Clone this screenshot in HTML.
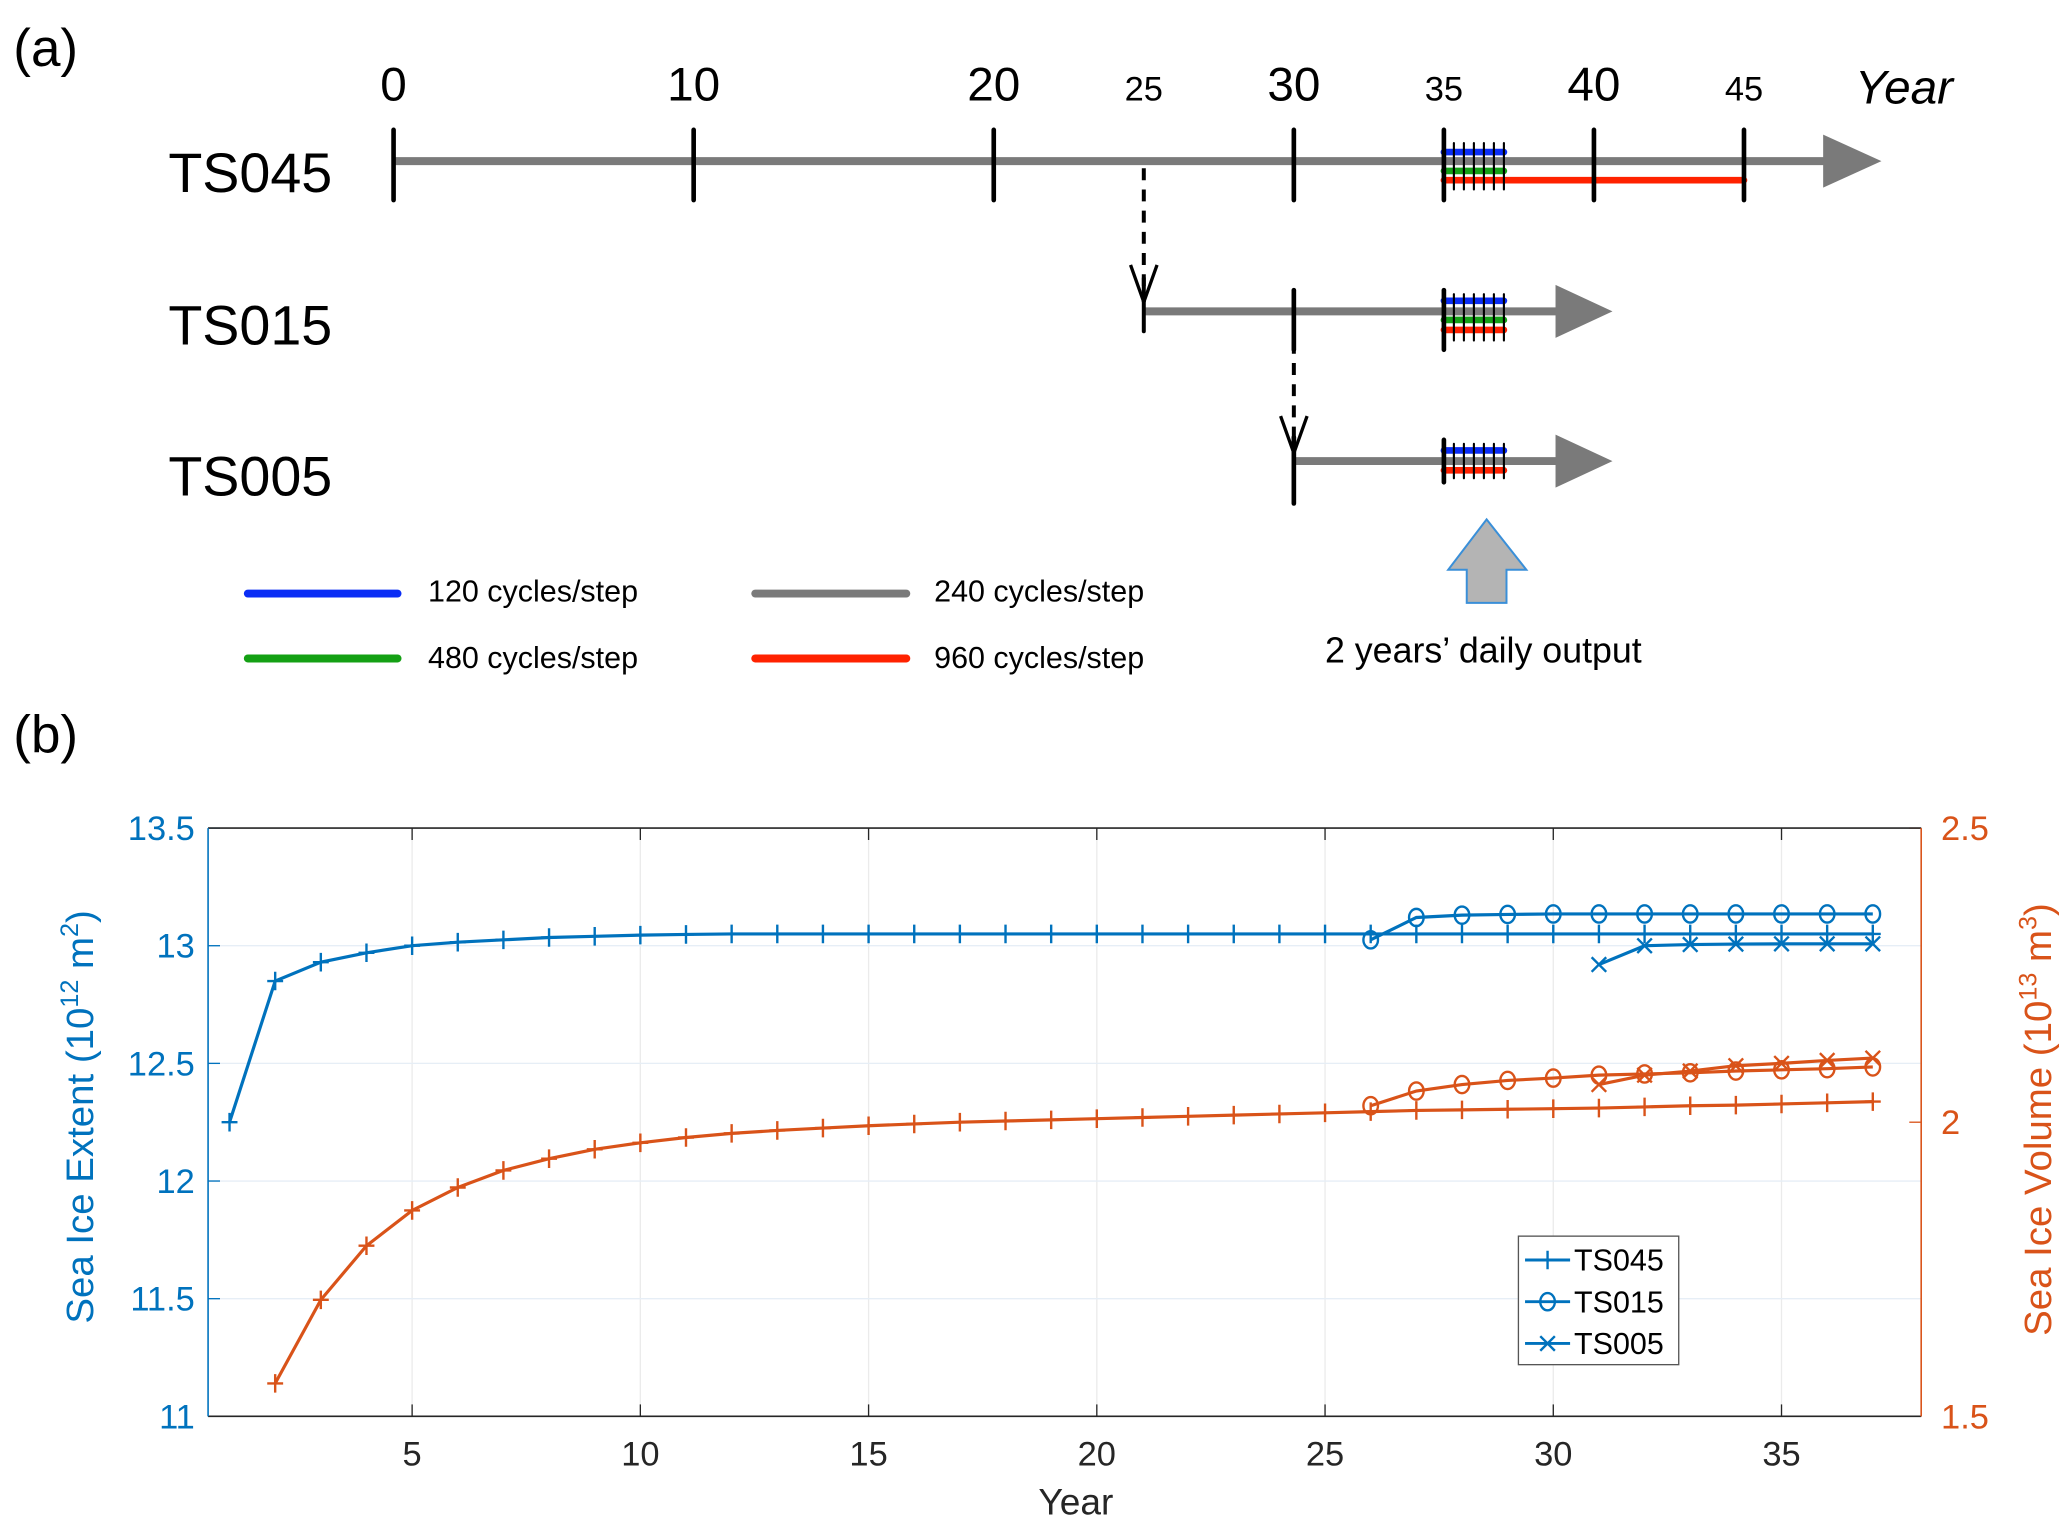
<!DOCTYPE html>
<html><head><meta charset="utf-8"><style>
html,body{margin:0;padding:0;background:#fff;}
svg{display:block;font-family:"Liberation Sans",Arial,sans-serif;}
</style></head><body>
<svg id="fig" width="2067" height="1521" viewBox="0 0 1560 1148" xmlns="http://www.w3.org/2000/svg">
<g id="panelA">
<text x="10" y="50" font-size="40">(a)</text>
<text x="1400" y="78" font-size="36" font-style="italic">Year</text>
<text x="127" y="145" font-size="42">TS045</text>
<text x="127" y="260" font-size="42">TS015</text>
<text x="127" y="374" font-size="42">TS005</text>
</g>
<g id="legendA">
<line x1="187" y1="448" x2="300" y2="448" stroke="#0a2df5" stroke-width="6" stroke-linecap="round"/>
<text x="323" y="454" font-size="23">120 cycles/step</text>
<line x1="570" y1="448" x2="684" y2="448" stroke="#7a7a7a" stroke-width="6" stroke-linecap="round"/>
<text x="705" y="454" font-size="23">240 cycles/step</text>
<line x1="187" y1="497" x2="300" y2="497" stroke="#14a014" stroke-width="6" stroke-linecap="round"/>
<text x="323" y="504" font-size="23">480 cycles/step</text>
<line x1="570" y1="497" x2="684" y2="497" stroke="#ff2200" stroke-width="6" stroke-linecap="round"/>
<text x="705" y="504" font-size="23">960 cycles/step</text>
<polygon points="1122,392 1152,430 1137,430 1137,455 1107,455 1107,430 1093,430" fill="#b4b4b4" stroke="#3a8fd8" stroke-width="1.5"/>
<text x="1000" y="500" font-size="27">2 years’ daily output</text>
</g>
<text x="10" y="568" font-size="40">(b)</text>
<g id="panelB"></g>
</svg>
<script>
const NS="http://www.w3.org/2000/svg";
// ---- panel (a) data ----
const timelineTicks=[0,10,20,25,30,35,40,45];
const tickBig=[true,true,true,false,true,false,true,false];
// ---- panel (b) data ----
const years045=[1,2,3,4,5,6,7,8,9,10,11,12,13,14,15,16,17,18,19,20,21,22,23,24,25,26,27,28,29,30,31,32,33,34,35,36,37];
const extent045=[12.25,12.85,12.93,12.97,13.0,13.015,13.025,13.035,13.04,13.045,13.048,13.05,13.05,13.05,13.05,13.05,13.05,13.05,13.05,13.05,13.05,13.05,13.05,13.05,13.05,13.05,13.05,13.05,13.05,13.05,13.05,13.05,13.05,13.05,13.05,13.05,13.05];
const years015=[26,27,28,29,30,31,32,33,34,35,36,37];
const extent015=[13.025,13.12,13.13,13.133,13.135,13.135,13.135,13.135,13.135,13.135,13.135,13.135];
const years005=[31,32,33,34,35,36,37];
const extent005=[12.92,13.0,13.005,13.007,13.008,13.008,13.008];
const volYears045=[2,3,4,5,6,7,8,9,10,11,12,13,14,15,16,17,18,19,20,21,22,23,24,25,26,27,28,29,30,31,32,33,34,35,36,37];
const volume045=[1.556,1.698,1.79,1.85,1.889,1.918,1.938,1.954,1.965,1.974,1.981,1.986,1.99,1.994,1.997,2.0,2.002,2.004,2.006,2.008,2.01,2.012,2.014,2.016,2.018,2.02,2.021,2.022,2.023,2.024,2.026,2.028,2.029,2.031,2.033,2.035];
const volume015=[2.028,2.053,2.064,2.071,2.075,2.08,2.082,2.084,2.087,2.089,2.091,2.094];
const volume005=[2.064,2.08,2.087,2.096,2.1,2.105,2.109];
const xTicks=[5,10,15,20,25,30,35];
const yLeftTicks=[11,11.5,12,12.5,13,13.5];
const yRightTicks=[1.5,2,2.5];

function mk(tag,attrs,parent){const e=document.createElementNS(NS,tag);for(const k in attrs)e.setAttribute(k,attrs[k]);parent.appendChild(e);return e;}
const A=document.getElementById('panelA');
const tx=y=>297+22.65*y;
timelineTicks.forEach((t,i)=>{
  const el=mk('text',{x:tx(t),y:76,'font-size':tickBig[i]?36:26,'text-anchor':'middle'},A);
  el.textContent=t;
  
  
});
function row(x0,x1,y,arrowEnd,name){
  const l=mk('line',{x1:x0,y1:y,x2:x1,y2:y,stroke:'#7a7a7a','stroke-width':6},A);
  
  
  const p=mk('polygon',{points:`${x1-2},${y-20} ${arrowEnd},${y} ${x1-2},${y+20}`,fill:'#7a7a7a'},A);
  
  
}
row(tx(0),1378,121.6,1420,'ts045');
row(tx(25),1176,235,1217,'ts015');
row(tx(30),1176,348,1217,'ts005');
function seg(y0,y1,y,c,name){
  const l=mk('line',{x1:tx(y0),y1:y,x2:tx(y1),y2:y,stroke:c,'stroke-width':5,'stroke-linecap':'round'},A);
  
  
}
seg(35,37,114.8,'#0a2df5','ts045-120');seg(35,37,129,'#14a014','ts045-480');seg(35,45,136,'#ff2200','ts045-960');
seg(35,37,227,'#0a2df5','ts015-120');seg(35,37,241.5,'#14a014','ts015-480');seg(35,37,249,'#ff2200','ts015-960');
seg(35,37,340,'#0a2df5','ts005-120');seg(35,37,355,'#ff2200','ts005-960');
function tick(y,ya,yb,w,name){
  const l=mk('line',{x1:tx(y),y1:ya,x2:tx(y),y2:yb,stroke:'#000','stroke-width':w,'stroke-linecap':'round'},A);
  
  
}
[0,10,20,30,35,40,45].forEach(t=>tick(t,98,151,3.5,'ts045-tick'));
tick(25,210,250,3,'ts015-start-tick');tick(30,219,264,3.5,'ts015-tick');tick(35,219,264,3.5,'ts015-tick');
tick(30,330,380,3.5,'ts005-start-tick');tick(35,332,364,3.5,'ts005-tick');
for(let k=1;k<=6;k++){tick(35+k/3,108,143,1.6,'ts045-daily-tick');tick(35+k/3,222,257,1.6,'ts015-daily-tick');tick(35+k/3,335,361,1.6,'ts005-daily-tick');}
function dash(x,y0,y1,name){
  const l=mk('line',{x1:x,y1:y0,x2:x,y2:y1,stroke:'#000','stroke-width':3,'stroke-dasharray':'9,7'},A);
  
  
  const p=mk('polyline',{points:`${x-10},${y1-28} ${x},${y1} ${x+10},${y1-28}`,fill:'none',stroke:'#000','stroke-width':2.5},A);
  
  
}
dash(tx(25),127,228,'restart-arrow-25');dash(tx(30),242,342,'restart-arrow-30');

// ---- panel (b) ----
const B=document.getElementById('panelB');
const L=157,R=1450,T=625,Bt=1069;
const X=v=>L+(v-0.53)/(38.06-0.53)*(R-L);
const YL=v=>Bt-(v-11)/2.5*(Bt-T);
const YR=v=>Bt-(v-1.5)/1.0*(Bt-T);
const blue='#0072BD',orange='#D95319';
const bg=mk('rect',{x:L,y:T,width:R-L,height:Bt-T,fill:'#fff'},B);


xTicks.forEach(v=>{
  const g=mk('line',{x1:X(v),y1:T,x2:X(v),y2:Bt,stroke:'#ebebeb','stroke-width':1},B);
  
  
  const tk=mk('line',{x1:X(v),y1:Bt,x2:X(v),y2:Bt-9,stroke:'#262626','stroke-width':1},B);
  
  
  const tk2=mk('line',{x1:X(v),y1:T,x2:X(v),y2:T+9,stroke:'#262626','stroke-width':1},B);
  
  
  const t=mk('text',{x:X(v),y:1106,'font-size':26,'text-anchor':'middle',fill:'#262626'},B);
  t.textContent=v;
  
  
});
yLeftTicks.forEach(v=>{
  if(v>11&&v<13.5){const g=mk('line',{x1:L,y1:YL(v),x2:R,y2:YL(v),stroke:'#e6eef6','stroke-width':1},B);
  
  }
  const tk=mk('line',{x1:L,y1:YL(v),x2:L+9,y2:YL(v),stroke:blue,'stroke-width':1},B);
  
  
  const t=mk('text',{x:147,y:YL(v)+9,'font-size':26,'text-anchor':'end',fill:blue},B);
  t.textContent=v;
  
  
});
yRightTicks.forEach(v=>{
  const tk=mk('line',{x1:R,y1:YR(v),x2:R-9,y2:YR(v),stroke:orange,'stroke-width':1},B);
  
  
  const t=mk('text',{x:1465,y:YR(v)+9,'font-size':26,fill:orange},B);
  t.textContent=v;
  
  
});
const ax1=mk('line',{x1:L,y1:T,x2:R,y2:T,stroke:'#262626','stroke-width':1.2},B);


const ax2=mk('line',{x1:L,y1:Bt,x2:R,y2:Bt,stroke:'#262626','stroke-width':1.2},B);


const ax3=mk('line',{x1:L,y1:T,x2:L,y2:Bt,stroke:blue,'stroke-width':1.2},B);


const ax4=mk('line',{x1:R,y1:T,x2:R,y2:Bt,stroke:orange,'stroke-width':1.2},B);



function marker(x,y,type,c,parent){
  let e;
  if(type==='+') e=mk('path',{d:`M${x-6},${y}H${x+6}M${x},${y-7}V${y+7}`,stroke:c,'stroke-width':1.8,fill:'none'},parent);
  else if(type==='o') e=mk('ellipse',{cx:x,cy:y,rx:5.5,ry:6.5,stroke:c,'stroke-width':1.8,fill:'none'},parent);
  else e=mk('path',{d:`M${x-5.5},${y-5.5}L${x+5.5},${y+5.5}M${x-5.5},${y+5.5}L${x+5.5},${y-5.5}`,stroke:c,'stroke-width':1.8,fill:'none'},parent);
  
  
}
function series(xs,ys,yf,type,c,name){
  const g=mk('g',{},B);
  
  
  const pts=xs.map((x,i)=>X(x)+','+yf(ys[i])).join(' ');
  const pl=mk('polyline',{points:pts,fill:'none',stroke:c,'stroke-width':2.4},g);
  
  
  xs.forEach((x,i)=>marker(X(x),yf(ys[i]),type,c,g));
}
series(volYears045,volume045,YR,'+',orange,'volume-ts045');
series(years015,volume015,YR,'o',orange,'volume-ts015');
series(years005,volume005,YR,'x',orange,'volume-ts005');
series(years045,extent045,YL,'+',blue,'extent-ts045');
series(years015,extent015,YL,'o',blue,'extent-ts015');
series(years005,extent005,YL,'x',blue,'extent-ts005');

const lg=mk('g',{},B);


const lr=mk('rect',{x:1146,y:933,width:121,height:97,fill:'#fff',stroke:'#555','stroke-width':1},lg);


const legendNames=['TS045','TS015','TS005'];
const legendMarks=['+','o','x'];
legendNames.forEach((n,i)=>{
  const y=951+i*31.5;
  const l=mk('line',{x1:1151,y1:y,x2:1185,y2:y,stroke:blue,'stroke-width':2.2},lg);
  
  
  marker(1168,y,legendMarks[i],blue,lg);
  const t=mk('text',{x:1188,y:y+8,'font-size':23,fill:'#000'},lg);
  t.textContent=n;
  
  
});
const xl=mk('text',{x:812,y:1143,'font-size':28,'text-anchor':'middle',fill:'#262626'},B);
xl.textContent='Year';


const yl=mk('text',{x:0,y:0,'font-size':29,'text-anchor':'middle',fill:blue,transform:'translate(70,843) rotate(-90)'},B);
yl.innerHTML='Sea Ice Extent (10<tspan dy="-11" font-size="19">12</tspan><tspan dy="11"> m</tspan><tspan dy="-11" font-size="19">2</tspan><tspan dy="11">)</tspan>';


const yr=mk('text',{x:0,y:0,'font-size':29,'text-anchor':'middle',fill:orange,transform:'translate(1548,845) rotate(-90)'},B);
yr.innerHTML='Sea Ice Volume (10<tspan dy="-11" font-size="19">13</tspan><tspan dy="11"> m</tspan><tspan dy="-11" font-size="19">3</tspan><tspan dy="11">)</tspan>';


</script>
</body></html>
